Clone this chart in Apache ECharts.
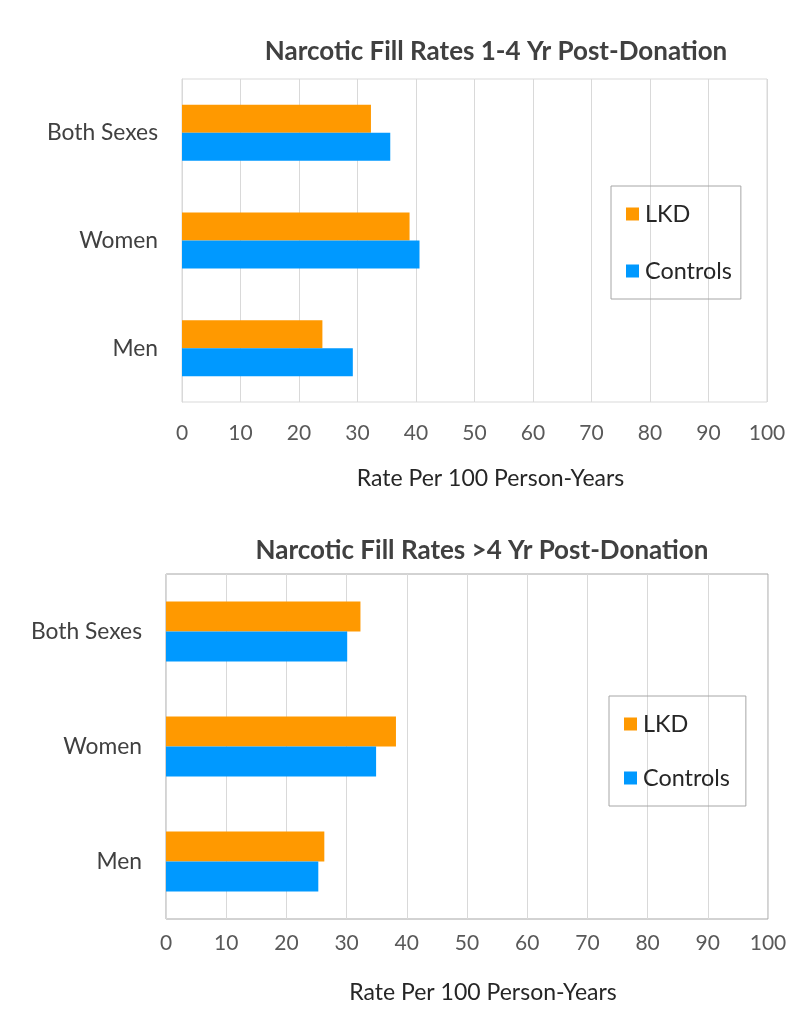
<!DOCTYPE html>
<html>
<head>
<meta charset="utf-8">
<script src="https://cdn.jsdelivr.net/npm/echarts@6/dist/echarts.min.js"></script>
<style>html,body{margin:0;padding:0;background:#fff}#c{width:800px;height:1035px}</style>
</head>
<body>
<div id="c"></div>
<script>
const categories = ['Both Sexes', 'Women', 'Men'];
const seriesNames = ['LKD', 'Controls'];
const lkdEarly = [32.3, 38.9, 24.0];
const controlsEarly = [35.6, 40.6, 29.2];
const lkdLate = [32.3, 38.2, 26.3];
const controlsLate = [30.1, 34.9, 25.3];
const titles = ['Narcotic Fill Rates 1-4 Yr Post-Donation', 'Narcotic Fill Rates >4 Yr Post-Donation'];
const axisName = 'Rate Per 100 Person-Years';

const FONT = 'Lato, "Open Sans", sans-serif';
const ORANGE = '#FF9900', BLUE = '#0099FF';

function xAx(gi, nameGap, labelMargin) {
  return {
    type: 'value', gridIndex: gi, min: 0, max: 100, interval: 10,
    name: axisName, nameLocation: 'middle', nameGap: nameGap,
    nameTextStyle: {fontFamily: FONT, fontSize: 23, color: '#262626', padding: [0, 0, 0, 32]},
    axisLine: {show: false}, axisTick: {show: false},
    axisLabel: {fontFamily: FONT, fontSize: 21, color: '#595959', margin: labelMargin},
    splitLine: {lineStyle: {color: '#d9d9d9', width: 1}}
  };
}
function yAx(gi) {
  return {
    type: 'category', gridIndex: gi, data: categories, inverse: true,
    axisLine: {show: true, lineStyle: {color: '#d9d9d9'}}, axisTick: {show: false},
    axisLabel: {fontFamily: FONT, fontSize: 22.8, color: '#404040', margin: 24}
  };
}
function bar(name, data, gi, color) {
  return {
    type: 'bar', name: name, data: data, xAxisIndex: gi, yAxisIndex: gi,
    itemStyle: {color: color}, barGap: '0%', barCategoryGap: '48%'
  };
}
function legend(left, top, gap, padRight) {
  return {
    data: seriesNames, orient: 'vertical', left: left, top: top,
    itemWidth: 13, itemHeight: 13, itemGap: gap, icon: 'rect',
    padding: [16, padRight, 16, 15], borderColor: '#a6a6a6', borderWidth: 1,
    textStyle: {fontFamily: FONT, fontSize: 23.4, color: '#262626', lineHeight: 24, padding: [0, 0, 0, 1]},
    selectedMode: false
  };
}

const chart = echarts.init(document.getElementById('c'), null, {renderer: 'canvas'});
chart.setOption({
  animation: false,
  backgroundColor: '#fff',
  title: [
    {text: titles[0], left: 491, top: 34, textAlign: 'center',
     textStyle: {fontFamily: FONT, fontSize: 26, fontWeight: 'bold', color: '#404040'}},
    {text: titles[1], left: 477, top: 533, textAlign: 'center',
     textStyle: {fontFamily: FONT, fontSize: 26, fontWeight: 'bold', color: '#404040'}}
  ],
  legend: [legend(611, 186, 33, 9), legend(609, 696, 30, 16)],
  grid: [
    {left: 182, right: 33, top: 79, height: 323, show: true, borderColor: '#d9d9d9', borderWidth: 1},
    {left: 166, right: 32, top: 574, height: 345, show: true, borderColor: '#a6a6a6', borderWidth: 1}
  ],
  xAxis: [xAx(0, 65, 21), xAx(1, 62, 14)],
  yAxis: [yAx(0), yAx(1)],
  series: [
    bar(seriesNames[0], lkdEarly, 0, ORANGE),
    bar(seriesNames[1], controlsEarly, 0, BLUE),
    bar(seriesNames[0], lkdLate, 1, ORANGE),
    bar(seriesNames[1], controlsLate, 1, BLUE)
  ]
});
</script>
</body>
</html>
